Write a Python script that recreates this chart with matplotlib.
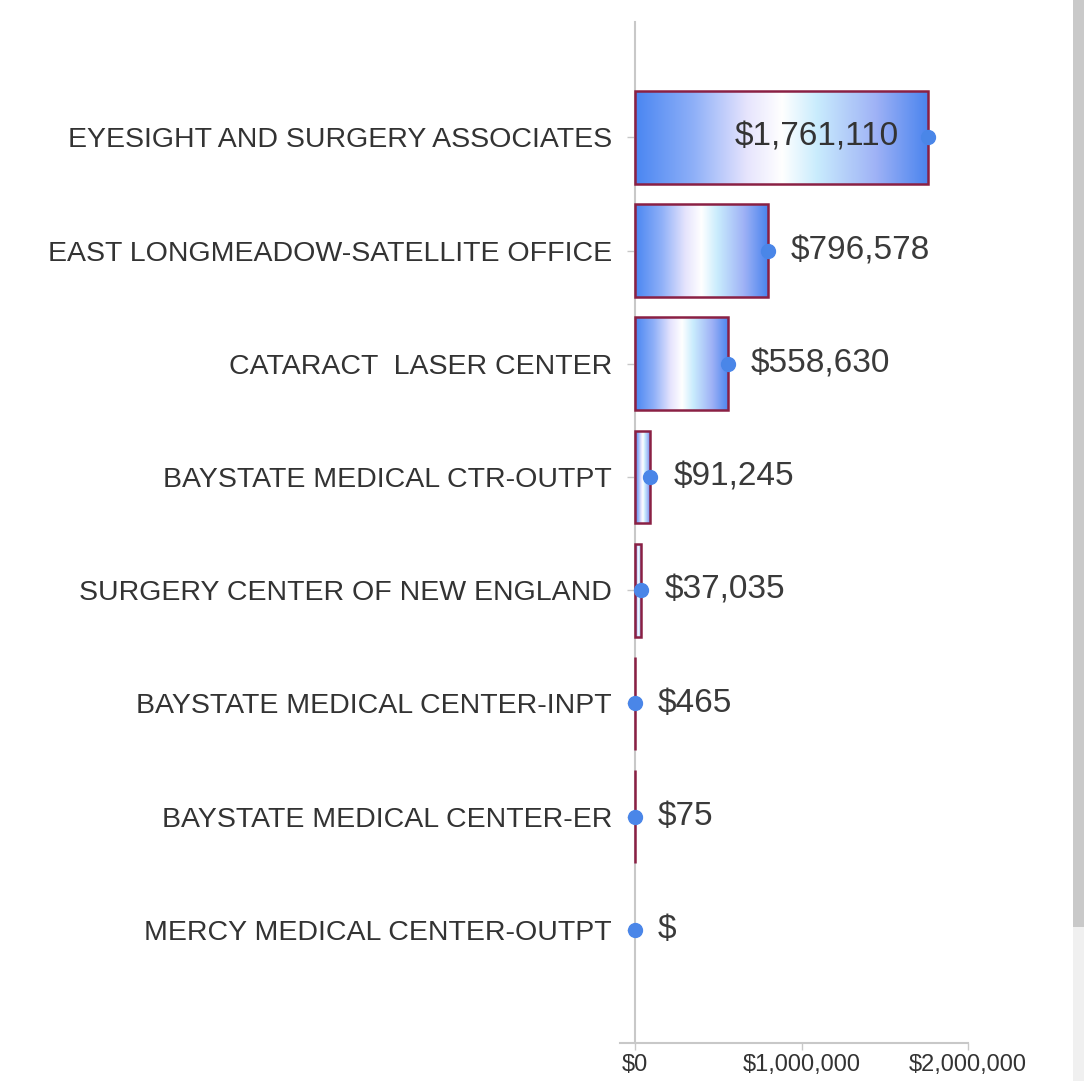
import matplotlib
matplotlib.use('Agg')
import matplotlib.pyplot as plt
from matplotlib.colors import LinearSegmentedColormap
from matplotlib.patches import Rectangle
import numpy as np

# ---------- DATA ----------
facilities = ['EYESIGHT AND SURGERY ASSOCIATES',
              'EAST LONGMEADOW-SATELLITE OFFICE',
              'CATARACT  LASER CENTER',
              'BAYSTATE MEDICAL CTR-OUTPT',
              'SURGERY CENTER OF NEW ENGLAND',
              'BAYSTATE MEDICAL CENTER-INPT',
              'BAYSTATE MEDICAL CENTER-ER',
              'MERCY MEDICAL CENTER-OUTPT']
amounts = [1761110, 796578, 558630, 91245, 37035, 465, 75, 0]
x_ticks = [0, 1000000, 2000000]
x_tick_labels = ['$0', '$1,000,000', '$2,000,000']

# ---------- PLOTTING ----------
plt.rcParams['font.family'] = ['Liberation Sans', 'DejaVu Sans']

fig = plt.figure(figsize=(10.84, 10.81), dpi=100)
ax = fig.add_axes([0.572, 0.0352, 0.321, 0.9445])

# spine position first: moving it resets the tick labels
for side in ['top', 'right']:
    ax.spines[side].set_visible(False)
ax.spines['left'].set_position(('data', 0))
ax.spines['left'].set_color('#c8c8c8')
ax.spines['left'].set_linewidth(1.5)
ax.spines['bottom'].set_color('#c8c8c8')
ax.spines['bottom'].set_linewidth(1.5)

grad_cmap = LinearSegmentedColormap.from_list(
    'bar_grad', [(0.0, '#4a86f2'), (0.2, '#8fb0f8'), (0.38, '#e6e4fd'),
                 (0.5, '#ffffff'), (0.62, '#c9ecfd'), (0.82, '#9fb2f6'),
                 (1.0, '#4a84ee')])
grad = np.linspace(0, 1, 256).reshape(1, -1)

y_pos = np.arange(len(facilities))
bars = ax.barh(y_pos, amounts, height=0.82, color='none',
               edgecolor='#8a2044', linewidth=1.8, zorder=3)

for bar, val in zip(bars, amounts):
    if val == 0:
        bar.set_linewidth(0)
        continue
    x0, y0 = bar.get_x(), bar.get_y()
    w, h = bar.get_width(), bar.get_height()
    im = ax.imshow(grad, extent=[x0, x0 + w, y0 + h, y0], cmap=grad_cmap,
                   aspect='auto', zorder=2, interpolation='bilinear')
    im.set_clip_path(bar)

ax.plot(amounts, y_pos, 'o', color='#4a86e8', markersize=10, zorder=4,
        linestyle='none')

for y, val in zip(y_pos, amounts):
    label = f'${val:,}' if val else '$'
    if val > 1500000:
        ax.annotate(label, (val, y), xytext=(-29, 0), textcoords='offset pixels',
                    ha='right', va='center', fontsize=24, color='#333333', zorder=5)
    else:
        ax.annotate(label, (val, y), xytext=(23, 0), textcoords='offset pixels',
                    ha='left', va='center', fontsize=24, color='#3a3a3a', zorder=5)

# ---------- GRAPH OPTIONS ----------
ax.set_xlim(-90000, 2000000)
ax.set_ylim(8.0, -1.02)
ax.set_yticks(y_pos)
ax.set_yticklabels(facilities)
ax.set_xticks(x_ticks)
ax.set_xticklabels(x_tick_labels)
ax.tick_params(axis='y', length=6, width=1, color='#c8c8c8', pad=10.5,
               labelsize=20.5, labelcolor='#333333')
ax.tick_params(axis='x', length=5, width=1, color='#c8c8c8', pad=3,
               labelsize=17, labelcolor='#333333')
ax.patch.set_alpha(0)

# scrollbar strip on the right edge
fig.patches.append(Rectangle((1073 / 1084, 1 - 927 / 1081), 11 / 1084, 927 / 1081,
                             transform=fig.transFigure, facecolor='#c9c9c9',
                             edgecolor='none'))
fig.patches.append(Rectangle((1073 / 1084, 0), 11 / 1084, 1 - 927 / 1081,
                             transform=fig.transFigure, facecolor='#f0f0f0',
                             edgecolor='none'))

fig.savefig('out.png', dpi=100)
